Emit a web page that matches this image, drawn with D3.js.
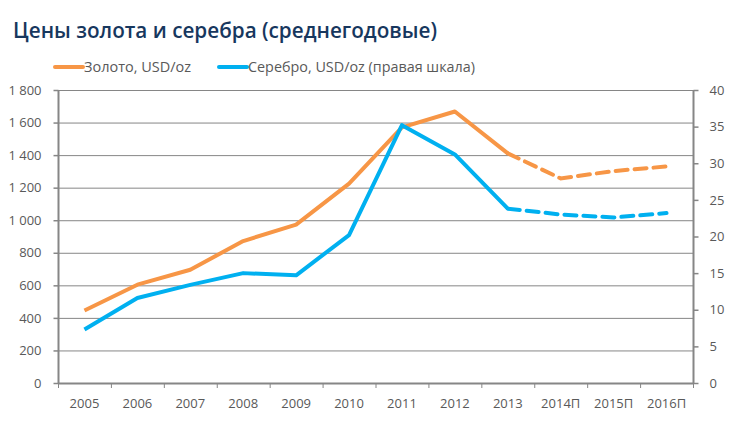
<!DOCTYPE html>
<html><head><meta charset="utf-8">
<script src="https://cdn.jsdelivr.net/npm/d3@7"></script>
<style>body{margin:0;background:#fff}svg{display:block}</style>
</head><body>
<svg id="c" width="735" height="427"></svg>
<script>
const categories = ["2005","2006","2007","2008","2009","2010","2011","2012","2013","2014П","2015П","2016П"];
const gold = [445, 604, 696, 872, 973, 1225, 1570, 1668, 1411, 1257, 1302, 1330];
const silver = [7.3, 11.6, 13.4, 15.0, 14.7, 20.2, 35.2, 31.2, 23.8, 23.0, 22.6, 23.2];
const forecastFrom = 8; // index where dashed (forecast) begins
const leftTicks = [0,200,400,600,800,1000,1200,1400,1600,1800];
const rightTicks = [0,5,10,15,20,25,30,35,40];
const title = "Цены золота и серебра (среднегодовые)";
const legendLabels = ["Золото, USD/oz", "Серебро, USD/oz (правая шкала)"];

const svg = d3.select("#c");
const L = 58, R = 693, T = 90, B = 383;
const x = d3.scaleBand().domain(categories).range([L, R]);
const yL = d3.scaleLinear().domain([0,1800]).range([B, T]);
const yR = d3.scaleLinear().domain([0,40]).range([B, T]);
const axisCol = "#868686", textCol = "#595959";
const font = "'Open Sans', sans-serif";

svg.append("text").attr("x", 13).attr("y", 38).attr("fill", "#17375E")
  .attr("font-family", font).attr("font-weight", 600).attr("font-size", 22)
  .attr("textLength", 424).attr("lengthAdjust", "spacingAndGlyphs").text(title);

// gridlines
svg.append("g").selectAll("line").data(leftTicks.filter(d=>d>0)).join("line")
  .attr("x1", L).attr("x2", R).attr("y1", d=>yL(d)+0.5).attr("y2", d=>yL(d)+0.5)
  .attr("stroke", axisCol).attr("stroke-width", 1);

// left axis
const gl = svg.append("g").attr("transform", `translate(${L+0.5},0)`)
  .call(d3.axisLeft(yL).tickValues(leftTicks).tickSize(5).tickPadding(12)
    .tickFormat(d => d3.format(",")(d).replace(/,/g, " ")));
// right axis
const gr = svg.append("g").attr("transform", `translate(${R+0.5},0)`)
  .call(d3.axisRight(yR).tickValues(rightTicks).tickSize(5).tickPadding(11));
// bottom axis
const gb = svg.append("g").attr("transform", `translate(0,${B+0.5})`)
  .call(d3.axisBottom(x).tickSize(0).tickPadding(15));
gb.selectAll(".tick text").attr("dy", "0.71em");
// category boundary ticks
svg.append("g").selectAll("line").data(d3.range(categories.length+1)).join("line")
  .attr("x1", i => L + i*x.step()+0.5).attr("x2", i => L + i*x.step()+0.5)
  .attr("y1", B).attr("y2", B+5).attr("stroke", axisCol);

[gl, gr, gb].forEach(g => {
  g.selectAll(".domain").attr("stroke", axisCol).attr("stroke-width", 2);
  g.selectAll(".tick line").attr("stroke", axisCol).attr("stroke-width", 1.5);
  g.selectAll(".tick text").attr("fill", textCol).attr("font-family", font)
    .attr("font-size", 13);
});
gb.select(".domain").attr("d", `M${L},0H${R}`);
gl.select(".domain").attr("d", `M0,${T}V${B}`);
gr.select(".domain").attr("d", `M0,${T}V${B}`);

const cx = (d,i) => x(categories[i]) + x.bandwidth()/2;
function drawSeries(vals, yScale, color) {
  const lineDef = d3.line().defined(d=>d!=null).x((d,i)=>cx(d,i)).y(d=>yScale(d));
  const solidPts = vals.map((v,i)=>i<=forecastFrom? v : null);
  svg.append("path").attr("d", lineDef(solidPts)).attr("fill","none")
    .attr("stroke", color).attr("stroke-width", 4).attr("stroke-linejoin","round");
  const dashPts = vals.map((v,i)=>i>=forecastFrom? v : null);
  svg.append("path").attr("d", lineDef(dashPts)).attr("fill","none")
    .attr("stroke", color).attr("stroke-width", 4).attr("stroke-dasharray","12 7")
    .attr("stroke-linecap","round");
}
drawSeries(gold, yL, "#F79646");
drawSeries(silver, yR, "#00B0F0");

// legend
const lg = [{c:"#F79646", x:55, t:legendLabels[0], w:107}, {c:"#00B0F0", x:219, t:legendLabels[1], w:227}];
lg.forEach(d => {
  svg.append("line").attr("x1", d.x).attr("x2", d.x+28).attr("y1", 67).attr("y2", 67)
    .attr("stroke", d.c).attr("stroke-width", 4).attr("stroke-linecap","round");
  svg.append("text").attr("x", d.x+29).attr("y", 72).attr("fill", textCol)
    .attr("font-family", font).attr("font-size", 14)
    .attr("textLength", d.w).attr("lengthAdjust", "spacingAndGlyphs").text(d.t);
});
</script>
</body></html>
